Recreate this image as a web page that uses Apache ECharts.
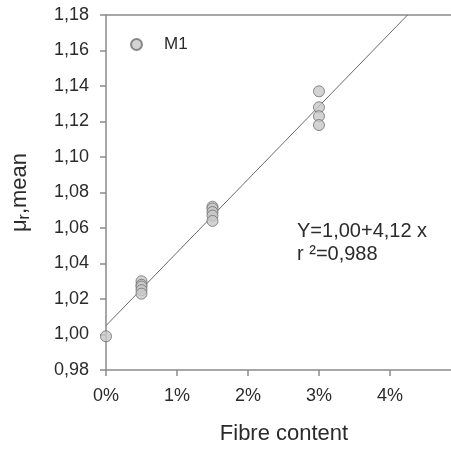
<!DOCTYPE html>
<html>
<head>
<meta charset="utf-8">
<script src="https://cdn.jsdelivr.net/npm/echarts@6/dist/echarts.min.js"></script>
<style>
  html, body { margin: 0; padding: 0; background: #fff; }
  #chart { width: 451px; height: 450px; }
</style>
</head>
<body>
<div id="chart"></div>
<script>
// fibre content in %, mu_r,mean
var fibre = [0, 0.5, 0.5, 0.5, 0.5, 0.5, 1.5, 1.5, 1.5, 1.5, 1.5, 3, 3, 3, 3];
var muMean = [0.999, 1.030, 1.028, 1.027, 1.025, 1.023, 1.072, 1.071, 1.069, 1.067, 1.064, 1.137, 1.128, 1.123, 1.118];
// fitted line (x in %)
var fitIntercept = 1.005;
var fitSlope = 0.0412;
var fitX = [0, 4.25];
var fitText = ['Y=1,00+4,12 x', 'r \u00b2=0,988'];

var fontName = 'Liberation Sans';
var textColor = '#2b2b2b';
var axisColor = '#8a8a8a';

var points = fibre.map(function (x, i) { return [x, muMean[i]]; });
var fitLine = fitX.map(function (x) { return [x, fitIntercept + fitSlope * x]; });

var myChart = echarts.init(document.getElementById('chart'));
var option = {
  animation: false,
  textStyle: { fontFamily: fontName },
  grid: { left: 106, right: 0, top: 15, bottom: 80 },
  legend: {
    left: 125, top: 31,
    icon: 'circle', itemWidth: 11, itemHeight: 11,
    data: ['M1'],
    textStyle: { fontSize: 17, color: textColor, padding: [0, 0, 0, 17] }
  },
  xAxis: [{
    type: 'value', min: 0, max: 4.86, interval: 1,
    name: 'Fibre content', nameLocation: 'middle', nameGap: 53,
    nameTextStyle: { fontSize: 22, color: textColor, padding: [0, 0, 0, 11] },
    axisLine: { show: true, lineStyle: { color: axisColor, width: 1.5 } },
    axisTick: { show: true, length: 6, lineStyle: { color: axisColor, width: 1.5 } },
    axisLabel: {
      fontSize: 18, color: textColor, margin: 17, showMaxLabel: false,
      formatter: function (v) { return Number.isInteger(v) ? v + '%' : ''; }
    },
    splitLine: { show: false }
  }, {
    type: 'value', position: 'top', min: 0, max: 4.86,
    axisLine: { show: true, onZero: false, lineStyle: { color: axisColor, width: 1.5 } },
    axisTick: { show: false }, axisLabel: { show: false }, splitLine: { show: false }
  }],
  yAxis: {
    type: 'value', min: 0.98, max: 1.18, interval: 0.02,
    name: '{b|\u03bc}{s|r}{b|,mean}', nameLocation: 'middle', nameGap: 73,
    nameTextStyle: {
      color: textColor,
      rich: {
        b: { fontSize: 22, color: textColor, fontFamily: fontName },
        s: { fontSize: 16, color: textColor, fontFamily: fontName, padding: [10, 0, 0, 0] }
      }
    },
    axisLine: { show: true, lineStyle: { color: axisColor, width: 1.5 } },
    axisTick: { show: true, length: 6, lineStyle: { color: axisColor, width: 1.5 } },
    axisLabel: {
      fontSize: 18, color: textColor, margin: 17,
      formatter: function (v) { return v.toFixed(2).replace('.', ','); }
    },
    splitLine: { show: false }
  },
  series: [{
    name: 'fit', type: 'line', data: fitLine, symbol: 'none', silent: true,
    lineStyle: { color: '#6a6a6a', width: 1 }, z: 1
  }, {
    name: 'M1', type: 'scatter', data: points, symbolSize: 11, z: 3,
    itemStyle: { color: '#c8c8c8', borderColor: '#6e6e6e', borderWidth: 1 }
  }],
  graphic: [{
    type: 'text', left: 297, top: 220,
    style: {
      text: fitText.join('\n'), fontSize: 20, lineHeight: 23,
      fill: textColor, fontFamily: fontName
    }
  }]
};
myChart.setOption(option);
</script>
</body>
</html>
